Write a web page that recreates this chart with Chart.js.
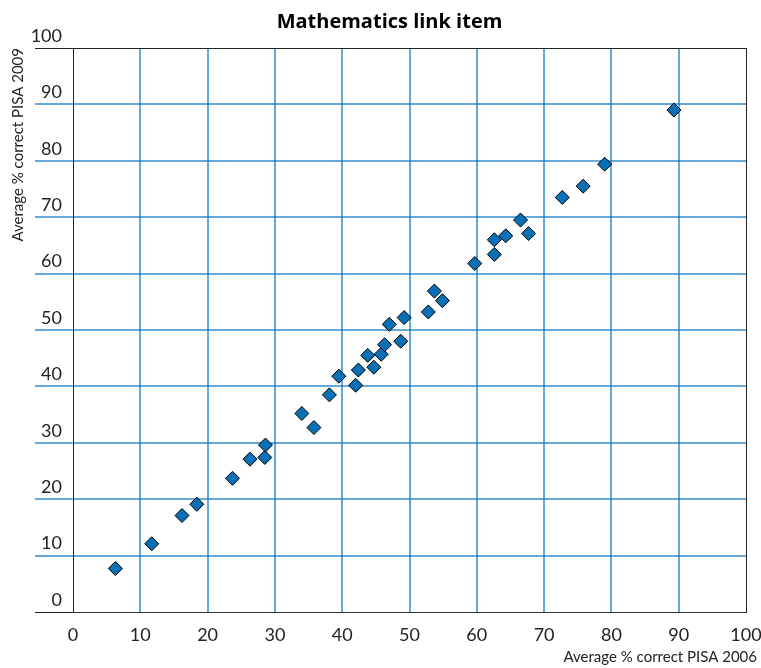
<!DOCTYPE html>
<html>
<head>
<meta charset="utf-8">
<title>Mathematics link item</title>
<script src="https://cdn.jsdelivr.net/npm/chart.js@4/dist/chart.umd.min.js"></script>
<style>
  html, body { margin: 0; padding: 0; background: #fff; }
  #wrap { width: 761px; height: 668px; }
</style>
</head>
<body>
<div id="wrap"><canvas id="chart" width="761" height="668"></canvas></div>
<script>
// values
const pisa2006 = [6.3, 11.7, 16.2, 18.4, 23.7, 26.3, 28.5, 28.6, 34.0, 35.8, 38.1, 39.5, 42.0, 42.4, 43.8, 44.7, 45.8,
  46.3, 47.0, 48.7, 49.2, 52.8, 53.7, 54.9, 59.7, 62.6, 62.6, 64.3, 66.5, 67.7, 72.7, 75.8, 79.0, 89.3];
const pisa2009 = [7.7, 12.1, 17.1, 19.1, 23.7, 27.1, 27.4, 29.6, 35.2, 32.7, 38.5, 41.8, 40.2, 42.9, 45.5, 43.4, 45.7,
  47.4, 51.0, 48.0, 52.2, 53.2, 56.9, 55.2, 61.8, 63.4, 66.0, 66.7, 69.5, 67.1, 73.5, 75.5, 79.4, 89.0];
const axisMin = 0;
const axisMax = 100;
const axisStep = 10;

const FONT = 'Lato, "Noto Sans", sans-serif';
const BLUE_GRID = 'rgba(0, 112, 192, 0.6)';

const isEdge = (ctx) => ctx.tick && (ctx.tick.value === axisMin || ctx.tick.value === axisMax);
const gridColor = (ctx) => (isEdge(ctx) ? '#222' : BLUE_GRID);
const gridWidth = (ctx) => (isEdge(ctx) ? 1 : 2);

const points = pisa2006.map((x, i) => ({ x, y: pisa2009[i] }));

// left padding nudges the centred title to the right; y axis box is sized so the plot still starts at x=73
const PAD_LEFT = 22;

new Chart(document.getElementById('chart').getContext('2d'), {
  type: 'scatter',
  data: {
    datasets: [
      {
        label: 'Items',
        data: points,
        pointStyle: 'rectRot',
        pointRadius: 7,
        pointHoverRadius: 7,
        backgroundColor: '#0a70b6',
        borderColor: '#000',
        borderWidth: 1,
      },
    ],
  },
  options: {
    responsive: false,
    animation: false,
    events: [],
    layout: { padding: { left: PAD_LEFT, right: 4, top: 0, bottom: 0 } },
    plugins: {
      legend: { display: false },
      tooltip: { enabled: false },
      title: {
        display: true,
        text: 'Mathematics link item',
        color: '#000',
        font: { family: '"Open Sans", Lato, sans-serif', size: 20, weight: 'bold' },
        padding: { top: 10, bottom: 14 },
      },
      subtitle: {
        display: true,
        position: 'bottom',
        align: 'end',
        text: 'Average % correct PISA 2006',
        color: '#222',
        font: { family: FONT, size: 15 },
        padding: { top: 0, bottom: 2 },
      },
    },
    scales: {
      x: {
        type: 'linear',
        min: axisMin,
        max: axisMax,
        afterFit: (s) => {
          s.height = 36;
          s.paddingRight = 15;
        },
        ticks: {
          stepSize: axisStep,
          color: '#222',
          padding: 12,
          font: { family: FONT, size: 18 },
        },
        grid: { color: gridColor, lineWidth: gridWidth, drawTicks: false },
        border: { color: '#333', width: 1 },
      },
      y: {
        type: 'linear',
        min: axisMin,
        max: axisMax,
        afterFit: (s) => {
          s.width = 73 - PAD_LEFT;
        },
        ticks: {
          stepSize: axisStep,
          color: '#222',
          padding: -27,
          labelOffset: -12,
          font: { family: FONT, size: 18 },
        },
        grid: { color: gridColor, lineWidth: gridWidth, drawTicks: true, tickLength: 38 },
        border: { color: '#222', width: 1 },
        title: {
          display: true,
          text: 'Average % correct PISA 2009',
          align: 'end',
          color: '#222',
          font: { family: FONT, size: 15 },
          padding: { top: 18 - PAD_LEFT - 9, bottom: 0 },
        },
      },
    },
  },
});
</script>
</body>
</html>
